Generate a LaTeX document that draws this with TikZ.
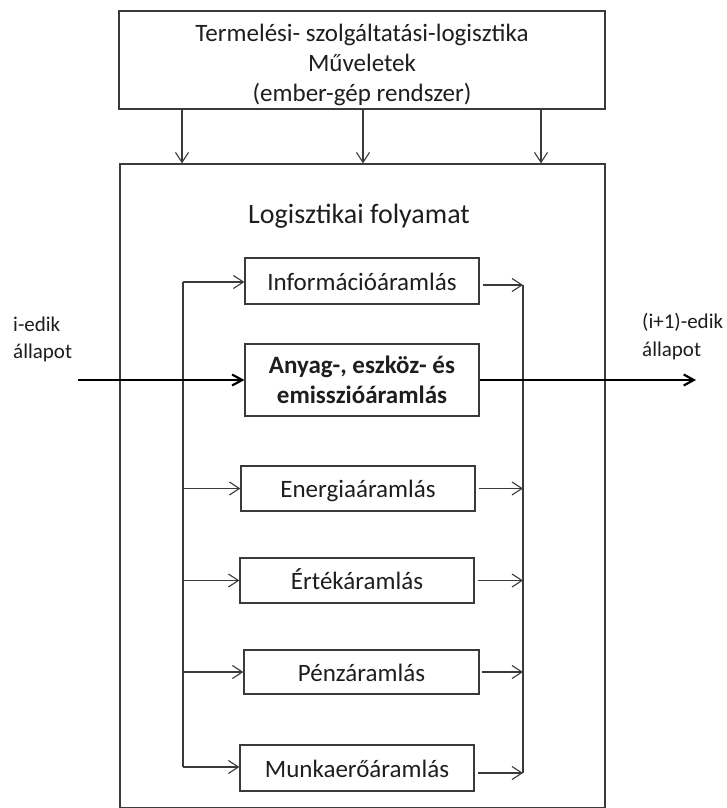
\documentclass[tikz,border=0pt]{standalone}
\usepackage{fontspec}
\setmainfont{Carlito}
\usetikzlibrary{arrows.meta,calc}
\definecolor{ln}{HTML}{3A3A3A}
\definecolor{tx}{HTML}{1E1E1E}
\begin{document}
\begin{tikzpicture}[x=1pt,y=-1pt,
  txt/.style={text=tx,inner sep=0pt},
  flowbox/.style={draw=ln,line width=1.2pt,fill=white,minimum width=234pt,minimum height=46pt,
    inner sep=0pt,text=tx,font=\fontsize{25}{30}\selectfont,text height=23pt,text depth=5pt},
  thin/.style={draw=ln,line width=1.2pt},
  thinarrow/.style={thin,-{Straight Barb[length=10pt,width=13pt,line width=1.1pt]}},
  thickarrow/.style={draw=black,line width=2.2pt,-{Straight Barb[length=10pt,width=11pt,line width=2.2pt]}}]
\useasboundingbox (0,0) rectangle (726,808);
\fill[white] (0,0) rectangle (726,808);

% operations box and the process frame
\node[draw=ln,line width=1.2pt,minimum width=486pt,minimum height=98pt,inner sep=0pt] (ops) at (362,60) {};
\node[txt,align=center,font=\fontsize{25}{30}\selectfont] (opslbl) at ($(ops.center)+(0,5)$)
  {Termelési- szolgáltatási-logisztika\\Műveletek\\(ember-gép rendszer)};
\node[draw=ln,line width=1.2pt,minimum width=485pt,minimum height=644pt,inner sep=0pt] (proc) at (362.5,486) {};
\node[txt,anchor=base,font=\fontsize{28}{32}\selectfont] (title) at (359,223) {Logisztikai folyamat};

% drop points from the operations box
\coordinate (d1) at (182,0);
\coordinate (d2) at (363,0);
\coordinate (d3) at (541,0);
\foreach \d in {d1,d2,d3}
  \draw[thinarrow] (ops.south -| \d) -- (proc.north -| \d);

% flows
\node[flowbox] (info) at (362,281) {Információáramlás};
\node[flowbox,minimum height=72pt] (mat) at (362,380) {};
\node[txt,align=center,font=\bfseries\fontsize{25}{30}\selectfont] (matlbl) at (mat.center)
  {Anyag-, eszköz- és\\emisszióáramlás};
\node[flowbox,minimum height=45pt] (energy) at (358,488.5) {Energiaáramlás};
\node[flowbox,minimum height=45pt] (value) at (357,580.5) {Értékáramlás};
\node[flowbox,minimum width=235pt,minimum height=44pt] (money) at (361.5,672) {Pénzáramlás};
\node[flowbox] (labour) at (357,768) {Munkaerőáramlás};

% distribution bus (left) and collection bus (right)
\coordinate (lt) at (183,282);
\coordinate (lb) at (183,767);
\coordinate (rt) at (523,285);
\coordinate (rb) at (523,773);
\draw[thin] (lt) -- (lb);
\draw[thin] (rt) -- (rb);

\draw[thinarrow] (lt) -- (info.west |- lt);
\draw[thinarrow] (lt |- energy) -- (energy.west);
\draw[thinarrow] (lt |- value) -- (value.west);
\draw[thinarrow] (lt |- money) -- (money.west);
\draw[thinarrow] (lb) -- (labour.west |- lb);

\draw[thinarrow] ($(info.east |- rt)+(3,0)$) -- (rt);
\draw[thinarrow] ($(energy.east)+(3,0)$) -- (rt |- energy);
\draw[thinarrow] ($(value.east)+(3,0)$) -- (rt |- value);
\draw[thinarrow] ($(money.east)+(2,0)$) -- (rt |- money);
\draw[thinarrow] ($(labour.east |- rb)+(3,0)$) -- (rb);

% states
\node[txt,anchor=west,align=left,font=\fontsize{21}{27}\selectfont] (sin) at (13,339.5) {i-edik\\állapot};
\node[txt,anchor=west,align=left,font=\fontsize{21}{28}\selectfont] (sout) at (642,337) {(i+1)-edik\\állapot};
\coordinate (start) at (78,380);
\coordinate (finish) at (696,380);
\draw[thickarrow] (start) -- (mat.west);
\draw[thickarrow] (mat.east) -- (finish);
\end{tikzpicture}
\end{document}
